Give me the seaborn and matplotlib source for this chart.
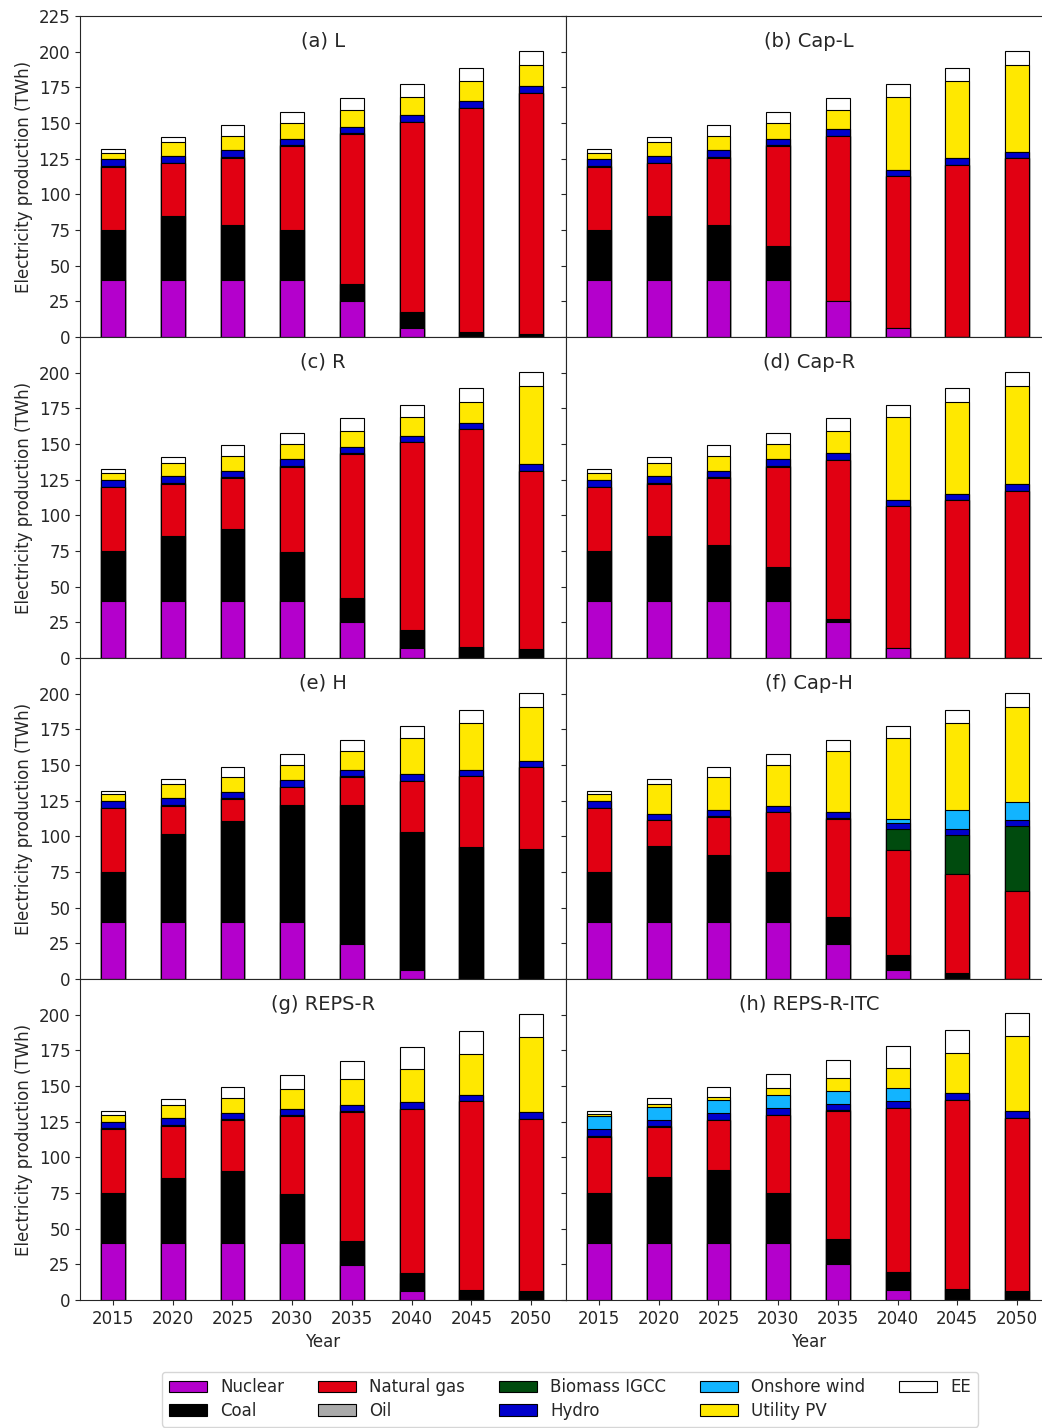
import matplotlib
matplotlib.use("Agg")
import matplotlib.pyplot as plt
from matplotlib.patches import Patch
import numpy as np
import seaborn as sns

years = [2015, 2020, 2025, 2030, 2035, 2040, 2045, 2050]
titles = ["(a) L", "(b) Cap-L", "(c) R", "(d) Cap-R",
          "(e) H", "(f) Cap-H", "(g) REPS-R", "(h) REPS-R-ITC"]

sources = ["Nuclear", "Coal", "Natural gas", "Oil", "Biomass IGCC",
           "Hydro", "Onshore wind", "Utility PV", "EE"]
colors = ["#b400cc", "#000000", "#e10012", "#aaaaaa", "#004b0e",
          "#0000cc", "#12b4ff", "#ffe800", "#ffffff"]

# one row per scenario (a..h), one column per year
nuclear = [
    [40, 40, 40, 40, 25, 6.5, 0, 0],
    [40, 40, 40, 40, 25, 6.5, 0, 0],
    [40, 40, 40, 40, 25, 6.8, 0, 0],
    [40, 40, 40, 40, 25.5, 7.3, 0, 0],
    [40, 40, 40, 40, 24.7, 6.5, 0, 0],
    [40, 40, 40, 40, 24.7, 6.5, 0, 0],
    [40, 40, 40, 40, 24.9, 6.3, 0, 0],
    [40, 40, 40, 40, 25.5, 7.3, 0, 0],
]
coal = [
    [35, 45, 38.5, 35, 12, 11, 3.5, 2],
    [35, 45, 38.5, 23.5, 0, 0, 0, 0],
    [35, 45.5, 50.2, 34.6, 17.1, 12.6, 7.5, 6.3],
    [35, 45.5, 39.5, 24, 1.8, 0, 0, 0],
    [34.7, 61.4, 71, 82.2, 97.3, 96.3, 92.2, 91.3],
    [34.7, 53.2, 47.1, 35, 18.5, 10.1, 4.2, 0],
    [35, 45.5, 50.2, 34.6, 16.7, 12.9, 7, 6.1],
    [35.3, 46.2, 50.9, 35.3, 17, 12.3, 7.7, 6.6],
]
natural_gas = [
    [44.5, 36.7, 47.2, 58.9, 105.5, 133.2, 157.2, 169.2],
    [44.5, 36.7, 47.2, 70.4, 116, 106.3, 120.5, 125.5],
    [44.6, 36.7, 36, 59.5, 100.9, 131.8, 152.8, 125],
    [44.6, 36.7, 46.7, 70.1, 111.3, 99.2, 110.5, 117.3],
    [44.9, 20.1, 15.2, 12.1, 19.6, 36.2, 49.8, 57],
    [44.9, 18, 26.4, 41.8, 68.9, 73.5, 69.1, 61.9],
    [44.8, 36.7, 36, 54.4, 90.2, 114.7, 132.5, 120.8],
    [39, 35.1, 35.1, 54.2, 90, 115, 132.5, 121],
]
oil = [
    [0.5, 0.5, 0.5, 0.5, 0.5, 0, 0, 0],
    [0.5, 0.5, 0.5, 0.5, 0, 0, 0, 0],
    [0.5, 0.5, 0.5, 0.5, 0.5, 0, 0, 0],
    [0.5, 0.5, 0.5, 0.5, 0.5, 0, 0, 0],
    [0.5, 0.5, 0.5, 0.5, 0.5, 0, 0, 0],
    [0.5, 0.5, 0.5, 0.5, 0.5, 0, 0, 0],
    [0.5, 0.5, 0.5, 0.5, 0.5, 0, 0, 0],
    [0.5, 0.5, 0.5, 0.5, 0.5, 0, 0, 0],
]
biomass = [
    [0, 0, 0, 0, 0, 0, 0, 0],
    [0, 0, 0, 0, 0, 0, 0, 0],
    [0, 0, 0, 0, 0, 0, 0, 0],
    [0, 0, 0, 0, 0, 0, 0, 0],
    [0, 0, 0, 0, 0, 0, 0, 0],
    [0, 0, 0, 0, 0, 15.3, 27.6, 45.1],
    [0, 0, 0, 0, 0, 0, 0, 0],
    [0, 0, 0, 0, 0, 0, 0, 0],
]
hydro = [
    [4.5, 4.7, 4.6, 4.6, 4.4, 4.9, 4.9, 4.7],
    [4.5, 4.7, 4.6, 4.6, 5.1, 4.5, 4.7, 4.4],
    [4.9, 4.7, 4.6, 4.7, 4.4, 4.7, 4.7, 4.7],
    [4.9, 4.7, 4.6, 4.7, 4.4, 4.2, 4.5, 4.5],
    [4.9, 4.6, 4.6, 4.7, 4.4, 4.4, 4.5, 4.2],
    [4.9, 4.2, 4.5, 4.2, 4.2, 4.2, 4.2, 4.2],
    [4.7, 4.7, 4.6, 4.4, 4.4, 4.7, 4.5, 4.7],
    [4.8, 4.6, 4.6, 4.6, 4.4, 4.7, 4.7, 4.7],
]
onshore_wind = [
    [0, 0, 0, 0, 0, 0, 0, 0],
    [0, 0, 0, 0, 0, 0, 0, 0],
    [0, 0, 0, 0, 0, 0, 0, 0],
    [0, 0, 0, 0, 0, 0, 0, 0],
    [0, 0, 0, 0, 0, 0, 0, 0],
    [0, 0, 0, 0, 0, 2.5, 13.1, 12.9],
    [0, 0, 0, 0, 0, 0, 0, 0],
    [9.2, 9.1, 9.4, 9.1, 9.1, 9.1, 0, 0],
]
utility_pv = [
    [4.7, 9.6, 10.3, 10.8, 11.7, 12.8, 13.8, 14.5],
    [4.7, 9.6, 10.3, 11, 12.8, 51.1, 54.2, 60.5],
    [5, 9.3, 10.6, 11, 11.5, 13, 14.7, 54.9],
    [5, 9.3, 10.6, 11, 15.9, 58.2, 64.7, 69.1],
    [4.9, 10.1, 10, 10.7, 13, 25.3, 33.1, 38.1],
    [4.9, 20.8, 22.8, 28.7, 42.7, 56.6, 61.4, 66.5],
    [5, 9.5, 10.6, 14.3, 18.5, 23.1, 28.4, 52.7],
    [1.4, 1.9, 1.8, 5.2, 9.1, 14, 28.5, 52.5],
]
ee = [
    [2.6, 3.5, 7.3, 7.9, 8.2, 8.9, 9.1, 9.8],
    [2.6, 3.5, 7.3, 7.7, 8.3, 8.9, 9.1, 9.8],
    [2.3, 4, 7.2, 7.7, 8.6, 8.7, 9.3, 9.8],
    [2.3, 4, 7.2, 7.7, 8.6, 8.7, 9.3, 9.8],
    [2.1, 3.5, 7.3, 7.5, 8, 8.6, 9.2, 9.9],
    [2.1, 3.5, 7.3, 7.5, 8, 8.6, 9.2, 9.9],
    [2.3, 3.8, 7.2, 9.8, 12.6, 15.6, 16.1, 16.4],
    [2.5, 4, 7.3, 9.8, 12.6, 15.6, 15.8, 16.2],
]

layers = [nuclear, coal, natural_gas, oil, biomass, hydro,
          onshore_wind, utility_pv, ee]

sns.set_style("ticks")
plt.rcParams["font.family"] = ["DejaVu Sans"]

fig, axes = plt.subplots(4, 2, figsize=(10.42, 14.28), dpi=100)
fig.subplots_adjust(left=0.0768, right=1.0096, top=0.9888, bottom=0.0896,
                    wspace=0, hspace=0)

for k, ax in enumerate(axes.flat):
    r, c = divmod(k, 2)
    stack = np.cumsum([np.array(layer[k], dtype=float) for layer in layers], axis=0)
    # draw cumulative bars from the top of the stack down
    for i in range(len(layers) - 1, -1, -1):
        sns.barplot(x=years, y=stack[i], color=colors[i], width=0.4,
                    saturation=1, edgecolor="black", linewidth=0.8,
                    errorbar=None, ax=ax)
    ax.text(0.5, 0.922, titles[k], transform=ax.transAxes,
            ha="center", va="center", fontsize=14)
    ax.set_xlim(-0.553, 7.586)
    ax.set_ylim(0, 225)
    ax.set_yticks(np.arange(0, 226, 25) if r == 0 else np.arange(0, 201, 25))
    ax.set_xticks(range(len(years)))
    ax.set_xticklabels([str(y) for y in years])
    ax.tick_params(labelsize=12)
    ax.set_xlabel("")
    ax.set_ylabel("")
    if c == 0:
        ax.set_ylabel("Electricity production (TWh)", fontsize=12)
    else:
        ax.tick_params(labelleft=False)
    if r < 3:
        ax.tick_params(labelbottom=False)
    else:
        ax.set_xlabel("Year", fontsize=12)
    for sp in ax.spines.values():
        sp.set_visible(True)

handles = [Patch(facecolor=colors[i], edgecolor="black", linewidth=0.8,
                 label=sources[i]) for i in range(len(sources))]
fig.legend(handles=handles, loc="lower center", ncol=5,
           bbox_to_anchor=(0.547, -0.005), fontsize=12,
           handlelength=2.3, columnspacing=2.0, labelspacing=0.35)

fig.savefig("out.png", dpi=100)
